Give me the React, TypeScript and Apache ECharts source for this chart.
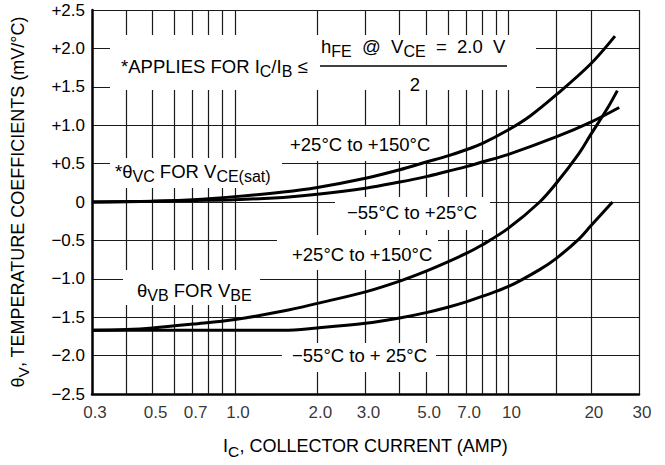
import React, { useEffect, useRef } from "react";
import * as echarts from "echarts";

// ---- axis ticks / grid ----
const xTickValues = [0.3, 0.5, 0.7, 1, 2, 3, 5, 7, 10, 20, 30];
const xTickLabels = ["0.3", "0.5", "0.7", "1.0", "2.0", "3.0", "5.0", "7.0", "10", "20", "30"];
const xGridValues = [0.4, 0.5, 0.6, 0.7, 0.8, 0.9, 1, 2, 3, 4, 5, 6, 7, 8, 9, 10, 15, 20, 30];
const yTickLabels = ["−2.5", "−2.0", "−1.5", "−1.0", "−0.5", "0", "+0.5", "+1.0", "+1.5", "+2.0", "+2.5"];

// ---- theta VC for VCE(sat), +25 to +150 C ----
const vcHotX = [0.3, 0.5, 0.7, 1.0, 1.5, 2, 3, 4, 5, 6, 7, 8, 10, 12, 15, 20, 24.5];
const vcHotY = [0.0, 0.01, 0.03, 0.07, 0.13, 0.19, 0.31, 0.42, 0.52, 0.6, 0.68, 0.76, 0.94, 1.12, 1.4, 1.8, 2.16];

// ---- theta VC for VCE(sat), -55 to +25 C ----
const vcColdX = [0.3, 0.5, 0.7, 1.0, 1.5, 2, 3, 4, 5, 6, 7, 8, 10, 15, 20, 25.4];
const vcColdY = [0.0, 0.01, 0.02, 0.03, 0.06, 0.1, 0.18, 0.26, 0.33, 0.4, 0.46, 0.52, 0.62, 0.85, 1.04, 1.23];

// ---- theta VB for VBE, +25 to +150 C ----
const vbHotX = [0.3, 0.4, 0.5, 0.7, 1.0, 1.5, 2, 3, 4, 5, 6, 7, 8, 10, 13, 15, 18, 20, 23, 25];
const vbHotY = [-1.67, -1.66, -1.64, -1.59, -1.53, -1.42, -1.32, -1.17, -1.03, -0.9, -0.78, -0.67, -0.56, -0.34, 0.0, 0.25, 0.62, 0.88, 1.22, 1.45];

// ---- theta VB for VBE, -55 to +25 C ----
const vbColdX = [0.3, 0.7, 1.0, 1.5, 2, 3, 4, 5, 6, 7, 8, 10, 13, 15, 18, 20, 24];
const vbColdY = [-1.67, -1.67, -1.67, -1.67, -1.64, -1.58, -1.51, -1.44, -1.37, -1.3, -1.23, -1.1, -0.88, -0.73, -0.49, -0.31, 0.0];

const FONT = "'Liberation Sans', Arial, Helvetica, sans-serif";

const rich = {
  m: { fontSize: 18.5, fontFamily: FONT, color: "#000" },
  s: { fontSize: 16, fontFamily: FONT, color: "#000", padding: [10, 0, 0, 0] },
};
const nameRich = {
  m: { fontSize: 18, fontFamily: FONT, color: "#000" },
  s: { fontSize: 15.5, fontFamily: FONT, color: "#000", padding: [10, 0, 0, 0] },
};

function zip(xs: number[], ys: number[]) {
  return xs.map((x, i) => [x, ys[i]]);
}

function curve(name: string, xs: number[], ys: number[]) {
  return {
    name,
    type: "line",
    data: zip(xs, ys),
    showSymbol: false,
    symbol: "none",
    smooth: 0.35,
    lineStyle: { color: "#000", width: 3 },
    z: 5,
    silent: true,
  };
}

function whiteBox(x: number, y: number, w: number, h: number) {
  return { type: "rect", z: 2, silent: true, shape: { x, y, width: w, height: h }, style: { fill: "#fff" } };
}

function label(x: number, y: number, text: string, align = "left") {
  return {
    type: "text",
    z: 6,
    x,
    y,
    silent: true,
    style: {
      text,
      rich,
      fontSize: 18.5,
      fontFamily: FONT,
      fill: "#000",
      align,
      verticalAlign: "middle",
    },
  };
}

export default function App() {
  const ref = useRef<HTMLDivElement>(null);
  useEffect(() => {
    if (!ref.current) return;
    const chart = echarts.init(ref.current, null, { renderer: "svg" });
    const option: any = {
      animation: false,
      backgroundColor: "#fff",
      grid: { left: 92, right: 26, top: 10, bottom: 71, containLabel: false, outerBoundsMode: "none" },
      xAxis: {
        type: "log",
        logBase: 10,
        min: 0.3,
        max: 30,
        axisLine: { show: true, onZero: false, lineStyle: { color: "#000", width: 2.5 } },
        axisTick: { show: false },
        axisLabel: { show: false },
        splitLine: { show: false },
        minorTick: { show: false },
        minorSplitLine: { show: false },
        name: "{m|I}{s|C}{m|, COLLECTOR CURRENT (AMP)}",
        nameLocation: "middle",
        nameGap: 39,
        nameTextStyle: { rich: nameRich, fontSize: 18, fontFamily: FONT, color: "#000" },
      },
      yAxis: {
        type: "value",
        min: -2.5,
        max: 2.5,
        interval: 0.5,
        axisLine: { show: true, onZero: false, lineStyle: { color: "#000", width: 2.5 } },
        axisTick: { show: false },
        axisLabel: {
          color: "#000",
          fontSize: 17,
          fontFamily: FONT,
          margin: 7,
          formatter: (v: number) => yTickLabels[Math.round((v + 2.5) / 0.5)],
        },
        splitLine: { show: true, lineStyle: { color: "#1a1a1a", width: 1.2 } },
        name: "{m|θ}{s|V}{m|, TEMPERATURE COEFFICIENTS (mV/°C)}",
        nameLocation: "middle",
        nameRotate: 90,
        nameGap: 61,
        nameTextStyle: { rich: nameRich, fontSize: 18, fontFamily: FONT, color: "#000" },
      },
      series: [
        {
          name: "xTicks",
          type: "scatter",
          data: xTickValues.map((v) => [v, -2.5]),
          symbolSize: 1,
          itemStyle: { color: "rgba(0,0,0,0)" },
          clip: false,
          silent: true,
          z: 1,
          label: {
            show: true,
            position: "bottom",
            distance: 9,
            offset: [3, 0],
            color: "#000",
            fontSize: 17,
            fontFamily: FONT,
            formatter: (p: any) => xTickLabels[p.dataIndex],
          },
          markLine: {
            silent: true,
            z: 1,
            symbol: ["none", "none"],
            label: { show: false },
            lineStyle: { color: "#1a1a1a", width: 1.2, type: "solid" },
            emphasis: { disabled: true },
            data: xGridValues.map((v) => ({ xAxis: v })),
          },
        },
        curve("θVC +25°C to +150°C", vcHotX, vcHotY),
        curve("θVC −55°C to +25°C", vcColdX, vcColdY),
        curve("θVB +25°C to +150°C", vbHotX, vbHotY),
        curve("θVB −55°C to +25°C", vbColdX, vbColdY),
      ],
      graphic: {
        elements: [
          whiteBox(110, 35, 426, 55),
          whiteBox(283, 126, 160, 35),
          whiteBox(110, 158, 172, 30),
          whiteBox(335, 197, 155, 33),
          whiteBox(277, 235, 161, 35),
          whiteBox(123, 270, 137, 35),
          whiteBox(282, 343, 154, 29),
          label(121, 66, "{m|*APPLIES FOR I}{s|C}{m|/I}{s|B}{m| ≤}"),
          label(321, 46, "{m|h}{s|FE}{m|\u00a0\u00a0@\u00a0\u00a0V}{s|CE}{m|\u00a0\u00a0=\u00a0\u00a02.0\u00a0\u00a0V}"),
          {
            type: "line",
            z: 6,
            silent: true,
            shape: { x1: 320, y1: 66, x2: 507, y2: 66 },
            style: { stroke: "#000", lineWidth: 1.5 },
          },
          label(415, 84, "2", "center"),
          label(290, 144, "+25°C to +150°C"),
          label(115, 171, "{m|*θ}{s|VC}{m| FOR V}{s|CE(sat)}"),
          label(347, 212, "−55°C to +25°C"),
          label(292, 254, "+25°C to +150°C"),
          label(137, 290, "{m|θ}{s|VB}{m| FOR V}{s|BE}"),
          label(292, 355, "−55°C to + 25°C"),
        ],
      },
    };
    chart.setOption(option);
    return () => chart.dispose();
  }, []);
  return (
    <div
      ref={ref}
      style={{ position: "fixed", left: 0, top: 0, width: 665, height: 465, background: "#fff" }}
    />
  );
}
